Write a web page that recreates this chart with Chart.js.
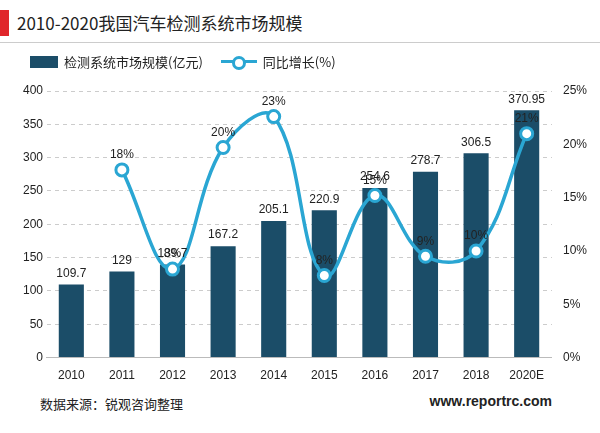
<!DOCTYPE html>
<html><head><meta charset="utf-8">
<script src="https://cdn.jsdelivr.net/npm/chart.js@4"></script>
<style>
body{margin:0;width:600px;height:433px;background:#fff;font-family:"Noto Sans CJK SC",sans-serif;position:relative;overflow:hidden}
#title{position:absolute;left:0;top:10px;height:26px;border-left:9px solid #e0262b;padding-left:8px;font-size:17px;line-height:26px;color:#222}
#rule{position:absolute;left:0;top:42px;width:600px;border-top:1px solid #ccc}
#src{position:absolute;left:40px;top:394px;font-size:13px;color:#222}
#web{position:absolute;right:48px;top:393px;font-size:14px;font-weight:bold;color:#222;font-family:Arial,"Liberation Sans",sans-serif}
#wrap{position:absolute;left:0;top:46px;width:600px;height:340px}
#leg{position:absolute;left:30px;top:52px;font-size:13px;color:#222;display:flex;align-items:center}
.sw{display:inline-block;width:28px;height:12px;background:#1b4d68;margin-right:6px}
.ln{display:inline-block;position:relative;width:36px;height:12px;margin:0 6px 0 18px}
.ln:before{content:"";position:absolute;left:0;right:0;top:4px;border-top:3px solid #2aa6d3}
.ln:after{content:"";position:absolute;left:11px;top:0;width:8px;height:8px;border:3px solid #2aa6d3;border-radius:50%;background:#fff}
</style></head><body>
<div id="title">2010-2020我国汽车检测系统市场规模</div>
<div id="rule"></div>
<div id="wrap"><canvas id="c"></canvas></div>
<div id="leg"><span class="sw"></span>检测系统市场规模(亿元)<span class="ln"></span>同比增长(%)</div>
<div id="src">数据来源：锐观咨询整理</div>
<div id="web">www.reportrc.com</div>
<script>
const categories=["2010","2011","2012","2013","2014","2015","2016","2017","2018","2020E"];
const marketSize=[109.7,129,139.7,167.2,205.1,220.9,254.6,278.7,306.5,370.95];
const growth=[null,17.6,8.3,19.7,22.6,7.7,15.2,9.5,10,21];
const growthLabels=["","18%","8%","20%","23%","8%","15%","9%","10%","21%"];
const labelsPlugin={id:'lbl',afterDatasetsDraw(ch){
  const c=ch.ctx;c.save();c.font='12px Arial, "Liberation Sans", sans-serif';c.fillStyle='#222';c.textAlign='center';c.textBaseline='bottom';
  ch.getDatasetMeta(0).data.forEach((b,i)=>c.fillText(String(marketSize[i]),b.x,b.y-5));
  ch.getDatasetMeta(1).data.forEach((p,i)=>{if(growth[i]!=null)c.fillText(growthLabels[i],p.x,p.y-9);});
  c.restore();}};
new Chart(document.getElementById('c'),{
 data:{labels:categories,datasets:[
  {type:'bar',label:'检测系统市场规模(亿元)',data:marketSize,backgroundColor:'#1b4d68',yAxisID:'y',order:2,categoryPercentage:0.8,barPercentage:0.62},
  {type:'line',label:'同比增长(%)',data:growth,borderColor:'#2aa6d3',borderWidth:3.5,backgroundColor:'#fff',pointRadius:6,pointBorderWidth:3,pointBackgroundColor:'#fff',pointBorderColor:'#2aa6d3',tension:0.4,yAxisID:'y1',order:1}
 ]},
 options:{responsive:true,maintainAspectRatio:false,animation:false,
  layout:{padding:{left:20,right:10,top:45,bottom:0}},
  plugins:{legend:{display:false},tooltip:{enabled:false}},
  scales:{
   x:{grid:{display:false},border:{color:'#bbb'},ticks:{color:'#222',font:{size:12}}},
   y:{min:0,max:400,ticks:{stepSize:50,color:'#222',font:{size:12}},grid:{color:'#ccc',tickLength:0},border:{display:true,color:'rgba(0,0,0,0)',dash:[4,4]}},
   y1:{position:'right',min:0,max:25,ticks:{stepSize:5,callback:v=>v+'%',color:'#222',font:{size:12}},grid:{display:false},border:{display:false}}
  }},
 plugins:[labelsPlugin]
});
</script></body></html>
